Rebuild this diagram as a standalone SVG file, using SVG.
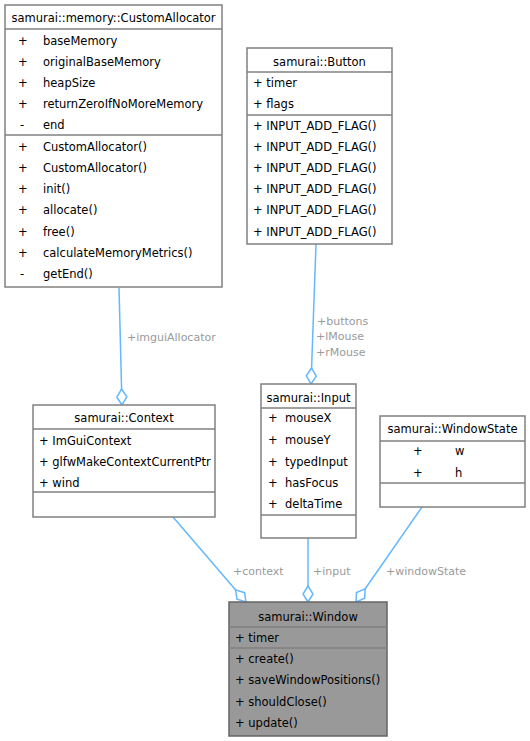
<svg xmlns="http://www.w3.org/2000/svg" width="530" height="741" viewBox="0 0 530 741">
<defs>
<style>
.box{fill:#ffffff;stroke:#808080;stroke-width:1.5}
.win{fill:#999999;stroke:#666666;stroke-width:1.5}
.sep{stroke:#808080;stroke-width:1.5}
.t{font-family:"DejaVu Sans",sans-serif;font-size:11.5px;fill:#000000}
.c{text-anchor:middle}
.lbl{font-family:"DejaVu Sans",sans-serif;font-size:11px;fill:#9a9a9a}
.edge{stroke:#63b8ff;stroke-width:1.5;fill:none;marker-end:url(#dia)}
</style>
<marker id="dia" markerUnits="userSpaceOnUse" markerWidth="20" markerHeight="14" viewBox="-1 -7 18 14" refX="16" refY="0" orient="auto">
<path d="M0,0 L8,-5 L16,0 L8,5 Z" fill="#ffffff" stroke="#63b8ff" stroke-width="1.5"/>
</marker>
</defs>
<rect width="530" height="741" fill="#ffffff"/>

<g id="connectors">
<line class="edge" x1="119" y1="288" x2="122" y2="405"/>
<line class="edge" x1="316" y1="244" x2="311" y2="384"/>
<line class="edge" x1="308" y1="538" x2="308" y2="602"/>
<line class="edge" x1="173" y1="517" x2="246" y2="602"/>
<line class="edge" x1="422" y1="507" x2="356" y2="602"/>
<text class="lbl" x="127" y="341">+imguiAllocator</text>
<text class="lbl" x="317" y="325">+buttons</text>
<text class="lbl" x="316" y="340">+lMouse</text>
<text class="lbl" x="316" y="356">+rMouse</text>
<text class="lbl" x="233" y="575">+context</text>
<text class="lbl" x="313" y="575">+input</text>
<text class="lbl" x="386" y="575">+windowState</text>
</g>

<g id="CustomAllocator">
<rect class="box" x="5" y="5" width="217" height="282"/>
<line class="sep" x1="5" y1="29" x2="222" y2="29"/>
<line class="sep" x1="5" y1="135" x2="222" y2="135"/>
<text class="t c" x="113.5" y="22">samurai::memory::CustomAllocator</text>
<text class="t" x="18" y="45">+</text><text class="t" x="43" y="45">baseMemory</text>
<text class="t" x="18" y="66">+</text><text class="t" x="43" y="66">originalBaseMemory</text>
<text class="t" x="18" y="87">+</text><text class="t" x="43" y="87">heapSize</text>
<text class="t" x="18" y="108">+</text><text class="t" x="43" y="108">returnZeroIfNoMoreMemory</text>
<text class="t" x="20" y="129">-</text><text class="t" x="43" y="129">end</text>
<text class="t" x="18" y="151">+</text><text class="t" x="43" y="151">CustomAllocator()</text>
<text class="t" x="18" y="172">+</text><text class="t" x="43" y="172">CustomAllocator()</text>
<text class="t" x="18" y="193">+</text><text class="t" x="43" y="193">init()</text>
<text class="t" x="18" y="214">+</text><text class="t" x="43" y="214">allocate()</text>
<text class="t" x="18" y="236">+</text><text class="t" x="43" y="236">free()</text>
<text class="t" x="18" y="257">+</text><text class="t" x="43" y="257">calculateMemoryMetrics()</text>
<text class="t" x="20" y="278">-</text><text class="t" x="43" y="278">getEnd()</text>
</g>

<g id="Button">
<rect class="box" x="247" y="48" width="145" height="196"/>
<line class="sep" x1="247" y1="72" x2="392" y2="72"/>
<line class="sep" x1="247" y1="115" x2="392" y2="115"/>
<text class="t c" x="319.5" y="66">samurai::Button</text>
<text class="t" x="253" y="87">+ timer</text>
<text class="t" x="253" y="108">+ flags</text>
<text class="t" x="253" y="130">+ INPUT_ADD_FLAG()</text>
<text class="t" x="253" y="151">+ INPUT_ADD_FLAG()</text>
<text class="t" x="253" y="172">+ INPUT_ADD_FLAG()</text>
<text class="t" x="253" y="193">+ INPUT_ADD_FLAG()</text>
<text class="t" x="253" y="214">+ INPUT_ADD_FLAG()</text>
<text class="t" x="253" y="236">+ INPUT_ADD_FLAG()</text>
</g>

<g id="Context">
<rect class="box" x="33" y="405" width="182" height="112"/>
<line class="sep" x1="33" y1="429" x2="215" y2="429"/>
<line class="sep" x1="33" y1="492" x2="215" y2="492"/>
<text class="t c" x="124" y="422">samurai::Context</text>
<text class="t" x="39" y="445">+ ImGuiContext</text>
<text class="t" x="39" y="466">+ glfwMakeContextCurrentPtr</text>
<text class="t" x="39" y="487">+ wind</text>
</g>

<g id="Input">
<rect class="box" x="261" y="384" width="95" height="154"/>
<line class="sep" x1="261" y1="408" x2="356" y2="408"/>
<line class="sep" x1="261" y1="515" x2="356" y2="515"/>
<text class="t c" x="308.5" y="402">samurai::Input</text>
<text class="t" x="268" y="422">+</text><text class="t" x="285" y="422">mouseX</text>
<text class="t" x="268" y="444">+</text><text class="t" x="285" y="444">mouseY</text>
<text class="t" x="268" y="466">+</text><text class="t" x="285" y="466">typedInput</text>
<text class="t" x="268" y="487">+</text><text class="t" x="285" y="487">hasFocus</text>
<text class="t" x="268" y="508">+</text><text class="t" x="285" y="508">deltaTime</text>
</g>

<g id="WindowState">
<rect class="box" x="380" y="416" width="145" height="91"/>
<line class="sep" x1="380" y1="441" x2="525" y2="441"/>
<line class="sep" x1="380" y1="483" x2="525" y2="483"/>
<text class="t c" x="452.5" y="433">samurai::WindowState</text>
<text class="t" x="413" y="455">+</text><text class="t" x="455" y="455">w</text>
<text class="t" x="413" y="477">+</text><text class="t" x="455" y="477">h</text>
</g>

<g id="Window">
<rect class="win" x="229" y="602" width="158" height="134"/>
<line class="sep" x1="229" y1="627" x2="387" y2="627" stroke="#666666"/>
<line class="sep" x1="229" y1="648" x2="387" y2="648" stroke="#666666"/>
<text class="t c" x="308" y="621">samurai::Window</text>
<text class="t" x="235" y="642">+ timer</text>
<text class="t" x="235" y="663">+ create()</text>
<text class="t" x="235" y="684">+ saveWindowPositions()</text>
<text class="t" x="235" y="706">+ shouldClose()</text>
<text class="t" x="235" y="727">+ update()</text>
</g>
</svg>
